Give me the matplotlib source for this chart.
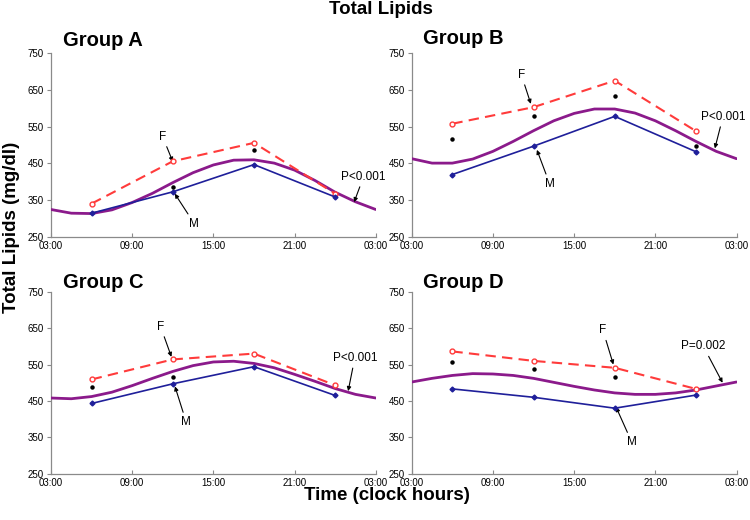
import matplotlib
matplotlib.use("Agg")
import matplotlib.pyplot as plt

plt.rcParams['font.family'] = ['Liberation Sans', 'DejaVu Sans']

# sampling times (hours after 00:00, 03:00 -> 27:00 axis)
hours = [6, 12, 18, 24]
curve_hours = [3, 4.5, 6, 7.5, 9, 10.5, 12, 13.5, 15, 16.5, 18, 19.5, 21, 22.5, 24, 25.5, 27]

groups = ['Group A', 'Group B', 'Group C', 'Group D']

# female / male means (mg/dl)
f_vals = {
    'Group A': [341, 456, 506, 368],
    'Group B': [558, 603, 675, 538],
    'Group C': [509, 564, 580, 493],
    'Group D': [586, 560, 541, 483],
}
m_vals = {
    'Group A': [315, 373, 447, 359],
    'Group B': [420, 497, 578, 482],
    'Group C': [443, 497, 544, 465],
    'Group D': [483, 460, 430, 466],
}
# asterisk marks (significance)
star_hours = {
    'Group A': [12, 18],
    'Group B': [6, 12, 18, 24],
    'Group C': [6, 12],
    'Group D': [6, 12, 18],
}
star_vals = {
    'Group A': [386, 487],
    'Group B': [516, 579, 634, 497],
    'Group C': [489, 516],
    'Group D': [558, 537, 515],
}
# cosinor fit curve, read every 1.5 h
curve_vals = {
    'Group A': [325, 315, 314, 324, 344, 369, 398, 425, 446, 459, 460, 451, 432, 404, 372, 346, 325],
    'Group B': [463, 451, 451, 462, 483, 510, 539, 566, 586, 598, 598, 587, 566, 539, 510, 483, 463],
    'Group C': [458, 456, 462, 474, 492, 512, 531, 547, 557, 559, 553, 541, 523, 504, 484, 468, 458],
    'Group D': [502, 512, 520, 525, 524, 520, 512, 501, 490, 480, 472, 468, 468, 472, 480, 491, 502],
}
p_text = {'Group A': 'P<0.001', 'Group B': 'P<0.001', 'Group C': 'P<0.001', 'Group D': 'P=0.002'}

xticks = [3, 9, 15, 21, 27]
xticklabels = ['03:00', '09:00', '15:00', '21:00', '03:00']
yticks = [250, 350, 450, 550, 650, 750]

# layout: axes rects and annotation positions (text xy, arrow tip)
rects = {
    'Group A': [0.068, 0.544, 0.433, 0.354],
    'Group B': [0.549, 0.544, 0.433, 0.354],
    'Group C': [0.068, 0.089, 0.433, 0.350],
    'Group D': [0.549, 0.089, 0.433, 0.350],
}
notes = {
    'Group A': {'F': ((11.25, 523), (12.0, 455)), 'M': ((13.6, 286), (12.15, 368)), 'P': ((26.1, 414), (25.4, 345))},
    'Group B': {'F': ((11.1, 691), (11.8, 612)), 'M': ((13.2, 394), (12.25, 487)), 'P': ((26.0, 577), (25.4, 491))},
    'Group C': {'F': ((11.1, 654), (11.9, 571)), 'M': ((13.0, 391), (12.16, 490)), 'P': ((25.45, 568), (24.96, 477))},
    'Group D': {'F': ((17.13, 644), (17.9, 550)), 'M': ((19.27, 336), (18.1, 433)), 'P': ((24.55, 600), (25.97, 500))},
}
label_pos = {
    'Group A': (0.084, 0.923), 'Group B': (0.564, 0.925),
    'Group C': (0.084, 0.456), 'Group D': (0.564, 0.456),
}

fig = plt.figure(figsize=(7.5, 5.2), dpi=100)

arrow = dict(arrowstyle='-|>', color='black', lw=0.8, mutation_scale=6, shrinkA=1, shrinkB=0)

for g in groups:
    ax = fig.add_axes(rects[g])
    ax.plot(curve_hours, curve_vals[g], color='#8B1A8B', lw=2.0, zorder=3,
            solid_joinstyle='round', solid_capstyle='round')
    ax.plot(hours, f_vals[g], '--', color='#FF3B3B', lw=1.5, dashes=(5, 3),
            marker='o', markersize=3.5, markerfacecolor='white', markeredgecolor='#FF3B3B', zorder=4)
    ax.plot(hours, m_vals[g], '-', color='#1F1F9A', lw=1.2,
            marker='D', markersize=2.5, zorder=4)
    ax.plot(star_hours[g], star_vals[g], linestyle='none', marker='o', markersize=2.2,
            color='black', zorder=5)

    for key, txt in (('F', 'F'), ('M', 'M'), ('P', p_text[g])):
        (tx, ty), (px, py) = notes[g][key]
        ax.annotate(txt, xy=(px, py), xytext=(tx, ty), ha='center', va='center',
                    fontsize=8.5, arrowprops=arrow)

    ax.set_xlim(3, 27)
    ax.set_ylim(250, 750)
    ax.set_xticks(xticks)
    ax.set_xticklabels(xticklabels)
    ax.set_yticks(yticks)
    for s in ('top', 'right'):
        ax.spines[s].set_visible(False)
    for s in ('left', 'bottom'):
        ax.spines[s].set_color('#8a8a8a')
        ax.spines[s].set_linewidth(0.9)
    ax.tick_params(axis='x', direction='in', length=3, color='#8a8a8a', labelsize=7, pad=3)
    ax.tick_params(axis='y', direction='out', length=3, color='#8a8a8a', labelsize=7, pad=2)

    lx, ly = label_pos[g]
    fig.text(lx, ly, g, fontsize=14.5, fontweight='bold', ha='left', va='center')

fig.text(0.508, 0.981, 'Total Lipids', fontsize=13.5, fontweight='bold', ha='center', va='center')
fig.text(0.016, 0.562, 'Total Lipids (mg/dl)', fontsize=13.5, fontweight='bold',
         rotation=90, ha='center', va='center')
fig.text(0.516, 0.048, 'Time (clock hours)', fontsize=13.5, fontweight='bold', ha='center', va='center')

plt.savefig('out.png', dpi=100)
